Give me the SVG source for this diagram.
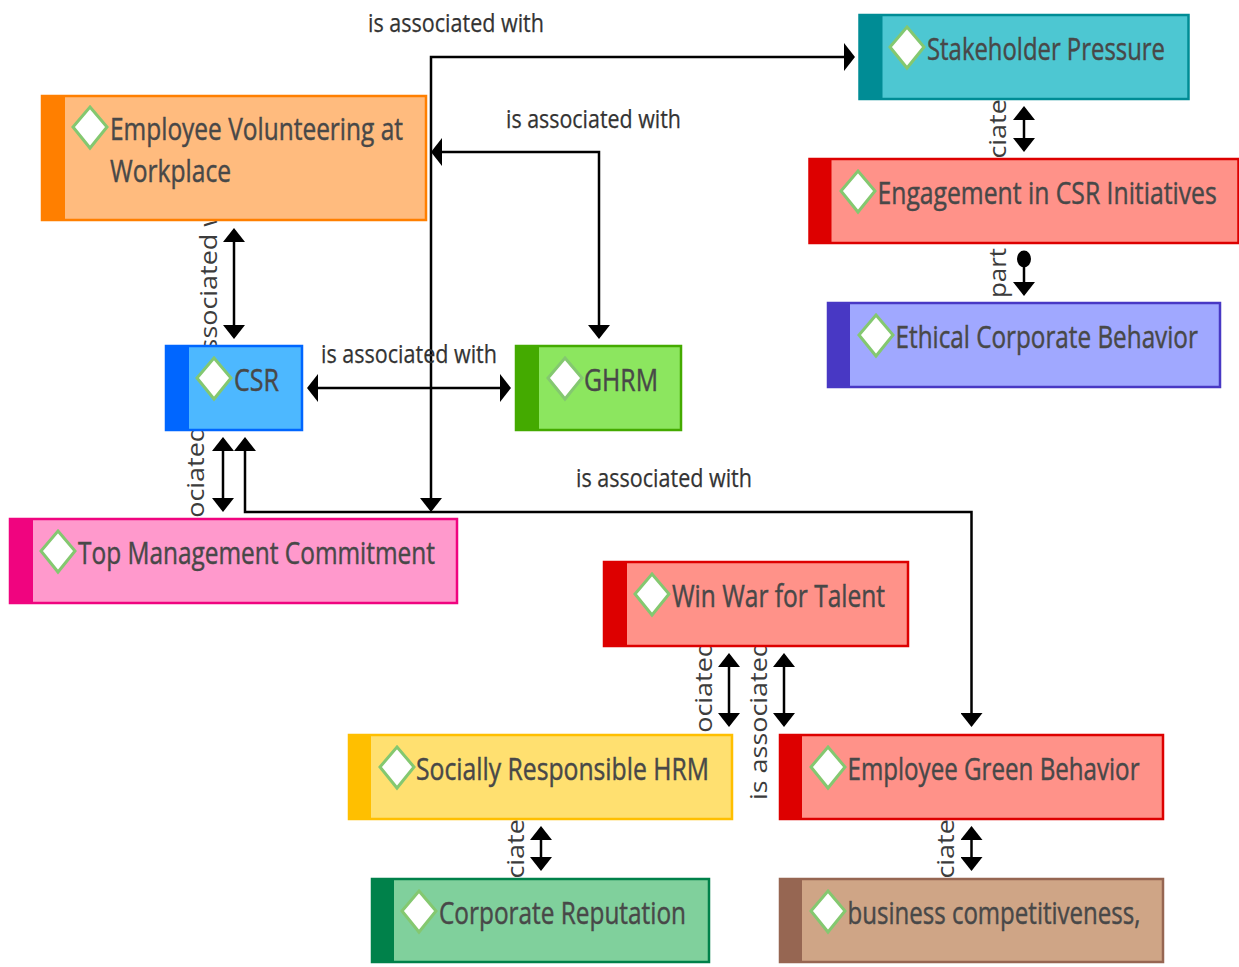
<svg xmlns="http://www.w3.org/2000/svg" width="1239" height="967" viewBox="0 0 1239 967">
<style>
text{font-family:"Open Sans","Noto Sans","Liberation Sans",sans-serif;}
.t{font-size:31px;fill:#484848;stroke:#484848;stroke-width:.45px;}
.h{font-size:25px;fill:#333;stroke:#333;stroke-width:.25px;}
.v{font-size:23.5px;fill:#3c3c3c;}
.d{fill:#fff;stroke:#84c870;stroke-width:3;}
.c{fill:none;stroke:#000;stroke-width:2.5;}
.o{stroke:#ff7f00;}.b{stroke:#0066ff;}.g{stroke:#44aa00;}.p{stroke:#f0047f;}.s{stroke:#008c95;}.r{stroke:#dd0000;}.u{stroke:#4838c4;}.y{stroke:#ffbf00;}.e{stroke:#00814a;}.n{stroke:#966652;}
rect{stroke-width:2.5;}
</style>
<defs>
<marker id="av" markerUnits="userSpaceOnUse" viewBox="0 0 14 22" markerWidth="14" markerHeight="22" refX="12" refY="11" orient="auto-start-reverse"><path d="M0 0L14 11L0 22z"/></marker>
<marker id="ah" markerUnits="userSpaceOnUse" viewBox="0 0 11 28" markerWidth="11" markerHeight="28" refX="9" refY="14" orient="auto-start-reverse"><path d="M0 0L11 14L0 28z"/></marker>
</defs>
<g id="connectors">
<path class="c" marker-start="url(#av)" marker-end="url(#ah)" d="M431 510V57H853"/>
<path class="c" marker-start="url(#ah)" marker-end="url(#av)" d="M433 152H599V337"/>
<path class="c" marker-start="url(#av)" marker-end="url(#av)" d="M234 230V337"/>
<path class="c" marker-start="url(#ah)" marker-end="url(#ah)" d="M309 388H509"/>
<path class="c" marker-start="url(#av)" marker-end="url(#av)" d="M223 439V510"/>
<path class="c" marker-start="url(#av)" marker-end="url(#av)" d="M245 439V512H971.5V725"/>
<path class="c" marker-start="url(#av)" marker-end="url(#av)" d="M1024 108V150"/>
<path class="c" marker-end="url(#av)" d="M1024 265V294"/>
<ellipse cx="1024" cy="259" rx="7" ry="8.5"/>
<path class="c" marker-start="url(#av)" marker-end="url(#av)" d="M729 655V725"/>
<path class="c" marker-start="url(#av)" marker-end="url(#av)" d="M784 655V725"/>
<path class="c" marker-start="url(#av)" marker-end="url(#av)" d="M541 828V869"/>
<path class="c" marker-start="url(#av)" marker-end="url(#av)" d="M971.5 828V869"/>
<text class="h" x="368" y="32" textLength="176" lengthAdjust="spacingAndGlyphs">is associated with</text>
<text class="h" x="506" y="128" textLength="175" lengthAdjust="spacingAndGlyphs">is associated with</text>
<text class="h" x="321" y="363" textLength="176" lengthAdjust="spacingAndGlyphs">is associated with</text>
<text class="h" x="576" y="487" textLength="176" lengthAdjust="spacingAndGlyphs">is associated with</text>
<text class="v" transform="translate(216.500 393) rotate(-90)" textLength="220" lengthAdjust="spacingAndGlyphs">is associated with</text>
<text class="v" transform="translate(203.500 585) rotate(-90)" textLength="220" lengthAdjust="spacingAndGlyphs">is associated with</text>
<text class="v" transform="translate(1006 242) rotate(-90)" textLength="220" lengthAdjust="spacingAndGlyphs">is associated with</text>
<text class="v" transform="translate(1006 298) rotate(-90)" textLength="50" lengthAdjust="spacingAndGlyphs">part</text>
<text class="v" transform="translate(711.500 800) rotate(-90)" textLength="220" lengthAdjust="spacingAndGlyphs">is associated with</text>
<text class="v" transform="translate(766.500 800) rotate(-90)" textLength="220" lengthAdjust="spacingAndGlyphs">is associated with</text>
<text class="v" transform="translate(523.500 962) rotate(-90)" textLength="220" lengthAdjust="spacingAndGlyphs">is associated with</text>
<text class="v" transform="translate(953.500 962) rotate(-90)" textLength="220" lengthAdjust="spacingAndGlyphs">is associated with</text>
</g>
<g id="employee-volunteering">
<rect class="o" x="42" y="96" width="384" height="124" fill="#ffbb7e"/><rect x="42" y="96" width="23" height="124" fill="#ff7f00" stroke="none"/>
<path class="d" d="M90 107L107 127L90 148L73 127z"/>
<text class="t" x="110" y="140" textLength="293" lengthAdjust="spacingAndGlyphs">Employee Volunteering at</text>
<text class="t" x="110" y="182" textLength="121" lengthAdjust="spacingAndGlyphs">Workplace</text>
</g>
<g id="csr">
<rect class="b" x="166" y="346" width="136" height="84" fill="#4db8ff"/><rect x="166" y="346" width="23" height="84" fill="#0066ff" stroke="none"/>
<path class="d" d="M214 358L231 378L214 399L197 378z"/>
<text class="t" x="234" y="391" textLength="45" lengthAdjust="spacingAndGlyphs">CSR</text>
</g>
<g id="ghrm">
<rect class="g" x="516" y="346" width="165" height="84" fill="#8ce65f"/><rect x="516" y="346" width="23" height="84" fill="#44aa00" stroke="none"/>
<path class="d" d="M565 358L582 378L565 399L548 378z"/>
<text class="t" x="584" y="391" textLength="74" lengthAdjust="spacingAndGlyphs">GHRM</text>
</g>
<g id="top-management">
<rect class="p" x="10" y="519" width="447" height="84" fill="#ff99cc"/><rect x="10" y="519" width="23" height="84" fill="#f0047f" stroke="none"/>
<path class="d" d="M58 531L75 551L58 572L41 551z"/>
<text class="t" x="78" y="564" textLength="357" lengthAdjust="spacingAndGlyphs">Top Management Commitment</text>
</g>
<g id="stakeholder-pressure">
<rect class="s" x="859.500" y="15" width="329" height="84" fill="#4dc7d2"/><rect x="859.500" y="15" width="23" height="84" fill="#008c95" stroke="none"/>
<path class="d" d="M907 27L924 47L907 68L890 47z"/>
<text class="t" x="927" y="60" textLength="238" lengthAdjust="spacingAndGlyphs">Stakeholder Pressure</text>
</g>
<g id="engagement">
<rect class="r" x="809.500" y="159" width="429" height="84" fill="#ff9289"/><rect x="809.500" y="159" width="22" height="84" fill="#dd0000" stroke="none"/>
<path class="d" d="M858 171L875 191L858 212L841 191z"/>
<text class="t" transform="translate(877.500 204) scale(.8 1)" textLength="424" lengthAdjust="spacingAndGlyphs">Engagement in CSR Initiatives</text>
</g>
<g id="ethical-behavior">
<rect class="u" x="828" y="303" width="392" height="84" fill="#a0a8ff"/><rect x="828" y="303" width="22" height="84" fill="#4838c4" stroke="none"/>
<path class="d" d="M876 315L893 335L876 356L859 335z"/>
<text class="t" transform="translate(895.500 348) scale(.8 1)" textLength="378" lengthAdjust="spacingAndGlyphs">Ethical Corporate Behavior</text>
</g>
<g id="win-war">
<rect class="r" x="604" y="562" width="304" height="84" fill="#ff9289"/><rect x="604" y="562" width="23" height="84" fill="#dd0000" stroke="none"/>
<path class="d" d="M652 574L669 594L652 615L635 594z"/>
<text class="t" x="672" y="607" textLength="213" lengthAdjust="spacingAndGlyphs">Win War for Talent</text>
</g>
<g id="socially-responsible">
<rect class="y" x="349" y="735" width="383" height="84" fill="#ffe070"/><rect x="349" y="735" width="22" height="84" fill="#ffbf00" stroke="none"/>
<path class="d" d="M397 747L414 767L397 788L380 767z"/>
<text class="t" x="416" y="780" textLength="293" lengthAdjust="spacingAndGlyphs">Socially Responsible HRM</text>
</g>
<g id="employee-green">
<rect class="r" x="780" y="735" width="383" height="84" fill="#ff9289"/><rect x="780" y="735" width="22" height="84" fill="#dd0000" stroke="none"/>
<path class="d" d="M828 747L845 767L828 788L811 767z"/>
<text class="t" x="847.500" y="780" textLength="292" lengthAdjust="spacingAndGlyphs">Employee Green Behavior</text>
</g>
<g id="corporate-reputation">
<rect class="e" x="372" y="879" width="337" height="83" fill="#80d09c"/><rect x="372" y="879" width="22" height="83" fill="#00814a" stroke="none"/>
<path class="d" d="M419 891L436 911L419 932L402 911z"/>
<text class="t" x="439" y="924" textLength="247" lengthAdjust="spacingAndGlyphs">Corporate Reputation</text>
</g>
<g id="business-competitiveness">
<rect class="n" x="780" y="879" width="383" height="83" fill="#cfa586"/><rect x="780" y="879" width="22" height="83" fill="#966652" stroke="none"/>
<path class="d" d="M828 891L845 911L828 932L811 911z"/>
<text class="t" x="847.500" y="924" textLength="293" lengthAdjust="spacingAndGlyphs">business competitiveness,</text>
</g>
</svg>
